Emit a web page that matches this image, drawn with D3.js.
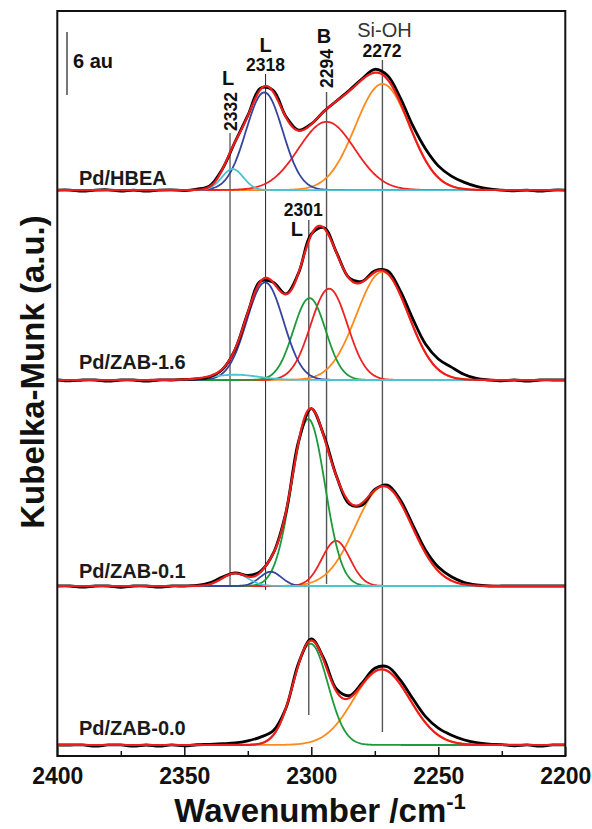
<!DOCTYPE html>
<html>
<head>
<meta charset="utf-8">
<script src="https://cdn.jsdelivr.net/npm/d3@7"></script>
<style>
body { margin: 0; background: #fff; }
svg { display: block; font-family: "Liberation Sans", Arial, sans-serif; }
</style>
</head>
<body>
<svg id="chart" width="592" height="829"></svg>
<script>
// wavenumber grid of the measured spectra (cm-1)
const wavenumbers = [2400, 2395, 2390, 2385, 2380, 2375, 2370, 2365, 2360, 2355,
  2350, 2345, 2340, 2335, 2330, 2325, 2320, 2315, 2310, 2305,
  2300, 2295, 2290, 2285, 2280, 2275, 2270, 2265, 2260, 2255,
  2250, 2245, 2240, 2235, 2230, 2225, 2220, 2215, 2210, 2205, 2200];

// measured Kubelka-Munk spectra (a.u.)
const hbeaMeasured = [0, 0, -0.1, 0, 0.02, -0.1, 0, -0.1, 0, 0.02,
  -0.05, 0.08, 0.4, 2.0, 4.6, 7.1, 9.7, 9.5, 7.0, 5.7,
  6.3, 7.5, 8.5, 9.5, 10.6, 11.5, 10.9, 8.8, 6.1, 3.9,
  2.3, 1.35, 0.75, 0.35, 0.1, 0, -0.08, 0, -0.1, 0, 0];
const zab16Measured = [0, -0.08, 0, 0, -0.1, 0, 0, -0.1, 0, 0,
  0.05, 0.1, 0.3, 1.0, 2.9, 6.4, 9.4, 9.3, 8.2, 10.2,
  13.9, 14.5, 12.1, 9.7, 9.4, 10.4, 10.4, 8.5, 5.8, 3.4,
  2.0, 1.25, 0.55, 0.15, 0, -0.08, 0, -0.1, 0, 0, 0];
const zab01Measured = [0, 0, -0.1, 0, 0, -0.12, 0, 0, -0.1, 0,
  0, 0.05, 0.3, 0.85, 1.25, 1.0, 1.4, 3.1, 7.0, 13.8,
  16.9, 14.3, 10.4, 7.8, 7.7, 9.2, 9.6, 8.2, 5.8, 3.4,
  1.8, 0.9, 0.35, 0.1, 0, 0, 0, 0, 0, 0, 0];
const zab00Measured = [0, 0, 0, -0.1, 0, 0, -0.1, 0, -0.1, 0,
  -0.08, 0.02, 0.06, 0.12, 0.2, 0.4, 0.75, 1.35, 3.5, 7.8,
  10.1, 8.2, 5.3, 4.7, 5.9, 7.3, 7.45, 6.2, 4.4, 2.7,
  1.6, 0.95, 0.5, 0.22, 0.08, 0.03, -0.08, 0, -0.1, 0, 0];

// fitted bands: centre (cm-1), height (a.u.), fwhm (cm-1)
const hbeaBands = [
  { band: "SiOH", center: 2272, height: 10.1, fwhm: 25 },
  { band: "B", center: 2294, height: 6.5, fwhm: 26 },
  { band: "L2318", center: 2318.5, height: 9.3, fwhm: 17 },
  { band: "L2332", center: 2331, height: 2.0, fwhm: 10 }
];
const zab16Bands = [
  { band: "SiOH", center: 2272, height: 10.3, fwhm: 24 },
  { band: "B", center: 2293, height: 8.7, fwhm: 17 },
  { band: "L2301", center: 2300.7, height: 7.8, fwhm: 15 },
  { band: "L2318", center: 2318.2, height: 9.3, fwhm: 17 },
  { band: "L2332", center: 2330, height: 0.5, fwhm: 22 }
];
const zab01Bands = [
  { band: "SiOH", center: 2271.5, height: 9.5, fwhm: 26 },
  { band: "B", center: 2290.3, height: 4.3, fwhm: 13 },
  { band: "L2301", center: 2301.2, height: 15.9, fwhm: 15.5 },
  { band: "L2318", center: 2316, height: 1.35, fwhm: 10 },
  { band: "L2332", center: 2330, height: 1.2, fwhm: 12 }
];
const zab00Bands = [
  { band: "SiOH", center: 2272.3, height: 7.2, fwhm: 26 },
  { band: "L2301", center: 2300.3, height: 9.65, fwhm: 16 }
];

const samples = ["Pd/HBEA", "Pd/ZAB-1.6", "Pd/ZAB-0.1", "Pd/ZAB-0.0"];
const xTicks = [2400, 2350, 2300, 2250, 2200];
const xMinorTicks = [2375, 2325, 2275, 2225];

// ---- layout ----
const x = d3.scaleLinear().domain([2400, 2200]).range([57.3, 565.3]);
const y = d3.scaleLinear().domain([0, 70.95]).range([756, 11]);   // a.u.
const offsets = [53.9, 35.81, 16.19, 1.05];   // stacking offset of each spectrum
const labelY = [185, 369, 578, 735];
const colors = { SiOH: "#ff8a1c", B: "#ee2222", L2301: "#1e9a3c", L2318: "#34449f", L2332: "#4cc3d3" };
const fitColor = "#f01c1c";

const panels = [
  { measured: hbeaMeasured, bands: hbeaBands },
  { measured: zab16Measured, bands: zab16Bands },
  { measured: zab01Measured, bands: zab01Bands },
  { measured: zab00Measured, bands: zab00Bands }
];

// guide lines for the band positions (extent in a.u.)
const guides = [
  { w: 2332, top: 59.33, bottom: 16.19, color: "#222", sw: 1 },
  { w: 2318, top: 64.95, bottom: 15.81, color: "#222", sw: 1 },
  { w: 2294, top: 63.24, bottom: 16.38, color: "#555", sw: 1.4 },
  { w: 2272, top: 66.29, bottom: 2.29, color: "#555", sw: 1.4 },
  { w: 2301, top: 51.05, bottom: 3.9, color: "#555", sw: 1.4 }
];

function gauss(b, w) {
  const d = w - b.center;
  return b.height * Math.exp(-4 * Math.LN2 * d * d / (b.fwhm * b.fwhm));
}

const svg = d3.select("#chart");
svg.append("rect").attr("width", 592).attr("height", 829).attr("fill", "#fff");

svg.append("clipPath").attr("id", "clip")
  .append("rect").attr("x", x(2400)).attr("y", y(70.95)).attr("width", x(2200) - x(2400)).attr("height", y(0) - y(70.95));

guides.forEach(g => {
  svg.append("line")
    .attr("x1", x(g.w)).attr("x2", x(g.w))
    .attr("y1", y(g.top)).attr("y2", y(g.bottom))
    .attr("stroke", g.color).attr("stroke-width", g.sw);
});

const fine = d3.range(2400, 2199.75, -0.5);
const smooth = d3.line().x(d => x(d[0])).y(d => y(d[1]));
const measuredLine = d3.line().x(d => x(d[0])).y(d => y(d[1])).curve(d3.curveCatmullRom);

const plot = svg.append("g").attr("clip-path", "url(#clip)");

panels.forEach((p, i) => {
  const off = offsets[i];
  const g = plot.append("g");
  p.bands.forEach(b => {
    g.append("path")
      .datum(fine.map(w => [w, off + gauss(b, w)]))
      .attr("d", smooth)
      .attr("fill", "none")
      .attr("stroke", colors[b.band])
      .attr("stroke-width", 1.8);
  });
  g.append("path")
    .datum(wavenumbers.map((w, j) => [w, off + p.measured[j]]))
    .attr("d", measuredLine)
    .attr("fill", "none")
    .attr("stroke", "#000")
    .attr("stroke-width", 2.8);
  g.append("path")
    .datum(fine.map(w => [w, off + d3.sum(p.bands, b => gauss(b, w))]))
    .attr("d", smooth)
    .attr("fill", "none")
    .attr("stroke", fitColor)
    .attr("stroke-width", 2.2);
});

// sample names
samples.forEach((s, i) => {
  svg.append("text")
    .attr("x", 79).attr("y", labelY[i])
    .style("font-size", "20px").style("font-weight", "bold").attr("fill", "#1a1a1a")
    .text(s);
});

// scale bar
svg.append("line")
  .attr("x1", 67).attr("x2", 67)
  .attr("y1", y(62.95)).attr("y2", y(62.95 + 6))
  .attr("stroke", "#777").attr("stroke-width", 2);
svg.append("text").attr("x", 73).attr("y", 68)
  .style("font-size", "20px").style("font-weight", "bold").attr("fill", "#111")
  .text("6 au");

// band annotations
function label(txt, xx, yy, size, bold, rotate) {
  const t = svg.append("text")
    .style("font-size", size + "px")
    .style("font-weight", bold ? "bold" : "normal")
    .attr("fill", bold ? "#111" : "#333")
    .text(txt);
  if (rotate) {
    t.attr("transform", `translate(${xx},${yy}) rotate(-90)`).attr("text-anchor", "start");
  } else {
    t.attr("x", xx).attr("y", yy).attr("text-anchor", "middle");
  }
}
label("L", x(2332) - 2, 85, 20, true);
label("2332", x(2332) + 6.5, 131, 17.5, true, true);
label("L", x(2318), 52, 20, true);
label("2318", x(2318), 71, 17.5, true);
label("B", x(2294) - 2.5, 43, 20, true);
label("2294", x(2294) + 6.2, 88, 17.5, true, true);
label("Si-OH", x(2272) + 2, 37, 20, false);
label("2272", x(2272) - 0.5, 57, 17.5, true);
label("2301", x(2301) - 5.5, 216, 17.5, true);
label("L", x(2301) - 12, 236, 20, true);

// x axis
const axisMajor = svg.append("g").attr("transform", `translate(0,${y(0)})`)
  .call(d3.axisBottom(x).tickValues(xTicks).tickSize(-9).tickPadding(12).tickFormat(d3.format("d")));
const axisMinor = svg.append("g").attr("transform", `translate(0,${y(0)})`)
  .call(d3.axisBottom(x).tickValues(xMinorTicks).tickSize(-5).tickFormat(""));
[axisMajor, axisMinor].forEach(a => {
  a.select(".domain").remove();
  a.selectAll(".tick line").attr("stroke", "#111").attr("stroke-width", 1.5);
});
axisMajor.selectAll(".tick text")
  .attr("fill", "#111")
  .style("font-size", "23px").style("font-weight", "bold")
  .style("font-family", "'Liberation Sans', Arial, sans-serif");

// frame
svg.append("rect")
  .attr("x", x(2400)).attr("y", y(70.95))
  .attr("width", x(2200) - x(2400)).attr("height", y(0) - y(70.95))
  .attr("fill", "none").attr("stroke", "#111").attr("stroke-width", 2);

// axis titles
const xt = svg.append("text")
  .attr("x", 320).attr("y", 822).attr("text-anchor", "middle")
  .style("font-size", "33px").style("font-weight", "bold").attr("fill", "#111");
xt.append("tspan").text("Wavenumber /cm");
xt.append("tspan").attr("dy", -13).style("font-size", "22px").text("-1");

svg.append("text")
  .attr("transform", "translate(44,372) rotate(-90)")
  .attr("text-anchor", "middle")
  .style("font-size", "33px").style("font-weight", "bold").attr("fill", "#111")
  .text("Kubelka-Munk (a.u.)");
</script>
</body>
</html>
